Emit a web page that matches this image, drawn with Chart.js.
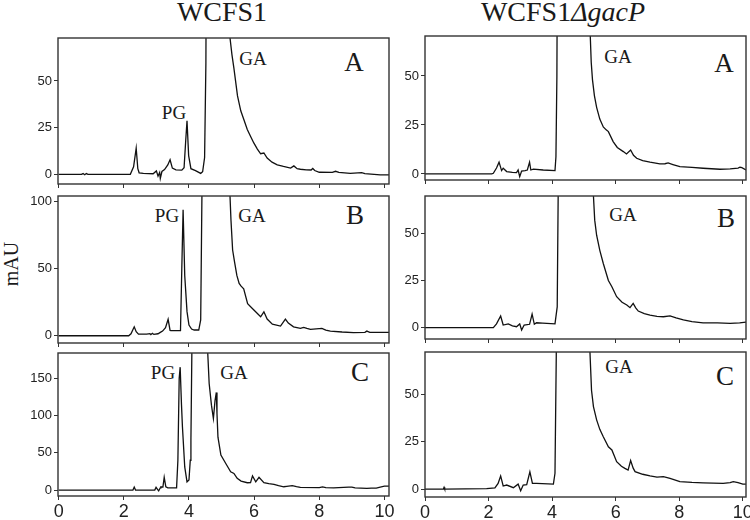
<!DOCTYPE html>
<html>
<head>
<meta charset="utf-8">
<script src="https://cdn.jsdelivr.net/npm/chart.js@4.4.1/dist/chart.umd.min.js"></script>
<style>
  html, body { margin: 0; padding: 0; background: #fff; }
  body { width: 750px; height: 520px; position: relative; overflow: hidden; font-family: "Liberation Serif", "Times New Roman", serif; color: #1a1a1a; }
  canvas { position: absolute; }
  .lbl { position: absolute; transform: translate(-50%, -50%); white-space: nowrap; line-height: 1; }
  .title { font-size: 28px; }
  .peak { font-size: 19px; }
  .panel { font-size: 27px; }
</style>
</head>
<body>
<div class="lbl title" style="left:222px;top:12px">WCFS1</div>
<div class="lbl title" style="left:563px;top:12px">WCFS1<i>ΔgacP</i></div>
<div class="lbl" style="left:11px;top:264px;font-size:20px;transform:translate(-50%,-50%) rotate(-90deg)">mAU</div>

<div class="lbl peak" style="left:174px;top:112px">PG</div>
<div class="lbl peak" style="left:253px;top:58px">GA</div>
<div class="lbl panel" style="left:354px;top:62px">A</div>
<div class="lbl peak" style="left:167px;top:215px">PG</div>
<div class="lbl peak" style="left:252px;top:215px">GA</div>
<div class="lbl panel" style="left:355px;top:215px">B</div>
<div class="lbl peak" style="left:163px;top:372px">PG</div>
<div class="lbl peak" style="left:234px;top:372px">GA</div>
<div class="lbl panel" style="left:360px;top:372px">C</div>

<div class="lbl peak" style="left:618px;top:56px">GA</div>
<div class="lbl panel" style="left:724px;top:63px">A</div>
<div class="lbl peak" style="left:623px;top:214px">GA</div>
<div class="lbl panel" style="left:726px;top:218px">B</div>
<div class="lbl peak" style="left:619px;top:366px">GA</div>
<div class="lbl panel" style="left:725px;top:376px">C</div>

<script>
// retention time axis (min)
const xTicks = [0, 2, 4, 6, 8, 10];

// WCFS1, sample A (GA peak apex is off scale)
const wtATime = [0, 0.7, 0.75, 0.8, 0.85, 0.9, 2.2, 2.3, 2.38, 2.43, 2.47, 2.6, 2.9, 3.0, 3.05, 3.1, 3.12, 3.17, 3.25, 3.35, 3.42, 3.49, 3.6, 3.78, 3.85, 3.9, 3.94, 3.99, 4.06, 4.2, 4.36, 4.42, 4.48, 4.52, 4.9, 5.22, 5.26, 5.32, 5.38, 5.49, 5.59, 5.7, 5.79, 5.9, 5.99, 6.1, 6.2, 6.3, 6.4, 6.55, 6.71, 6.9, 7.12, 7.22, 7.32, 7.42, 7.6, 7.75, 7.8, 7.86, 8.0, 8.4, 8.5, 8.6, 8.95, 9.3, 9.4, 9.87, 10.14];
const wtAmAU = [0, 0, 0.4, -0.2, 0.4, 0, 0, 4, 14, 3, 0.8, 0.5, 0.3, 1.8, -1, 1.0, -2.2, 1.5, 2.5, 5, 7.8, 3.3, 2.4, 2.2, 3.5, 18, 28.6, 10, 3.0, 2.0, 0.5, 1.4, 9, 60, 2000, 110, 73, 64, 56.7, 42, 34, 28.5, 24, 20, 16.8, 13.5, 11, 11.4, 8.7, 6.5, 5.1, 4.2, 3.3, 4.5, 3.0, 2.7, 2.4, 2.3, 3.1, 2.0, 1.1, 1.0, 1.6, 1.0, 0.5, 0.9, 0.4, -0.3, -0.3];

// WCFS1, sample B
const wtBTime = [0, 2.15, 2.22, 2.32, 2.38, 2.45, 2.7, 2.8, 2.83, 2.88, 2.92, 3.05, 3.12, 3.19, 3.28, 3.36, 3.42, 3.45, 3.74, 3.78, 3.82, 3.87, 3.94, 4.0, 4.08, 4.16, 4.3, 4.36, 4.4, 4.8, 5.25, 5.29, 5.34, 5.4, 5.47, 5.54, 5.6, 5.68, 5.8, 6.0, 6.2, 6.3, 6.4, 6.56, 6.81, 6.96, 7.05, 7.21, 7.42, 7.52, 7.62, 7.73, 8.08, 8.2, 8.34, 8.7, 9.05, 9.4, 9.46, 9.55, 9.87, 10.14];
const wtBmAU = [0, 0, 1.5, 6.7, 3, 1.2, 1.2, 1.6, 0.9, 1.8, 1.0, 1.5, 2.5, 3.5, 6, 12.3, 4, 3.8, 3.8, 50, 94, 45, 18, 8, 5, 4.3, 4.3, 11.8, 110, 2500, 110, 86, 64, 55, 45, 39, 37, 35, 24, 19, 14.2, 17.9, 12.5, 8.7, 7.2, 12.5, 9.5, 6.7, 5.5, 6.3, 5.5, 4.7, 5.5, 4.2, 3.5, 2.8, 2.4, 2.6, 3.5, 2.6, 2.5, 2.5];

// WCFS1, sample C
const wtCTime = [0, 2.28, 2.32, 2.36, 2.95, 2.99, 3.04, 3.07, 3.12, 3.14, 3.2, 3.24, 3.29, 3.35, 3.62, 3.66, 3.7, 3.73, 3.77, 3.8, 3.87, 3.94, 4.0, 4.04, 4.06, 4.09, 4.35, 4.57, 4.62, 4.69, 4.75, 4.8, 4.84, 4.86, 4.89, 4.98, 5.13, 5.28, 5.38, 5.48, 5.6, 5.79, 5.89, 5.95, 6.05, 6.15, 6.3, 6.45, 6.61, 6.75, 6.91, 7.0, 7.17, 7.3, 7.42, 8.0, 8.1, 8.2, 8.44, 8.9, 9.0, 9.1, 9.46, 9.6, 9.75, 9.87, 10.0, 10.14];
const wtCmAU = [0, 0, 4, 0, 0, 3.6, 0.5, -1, 3, 4.4, 4, 17, 4.4, 3, 3, 40, 150, 165, 115, 84.7, 31, 11, 13.4, 40, 67, 190, 3000, 190, 143, 114, 96, 120, 131, 102.7, 71, 47, 35.7, 24.5, 22.3, 15.7, 12, 9.8, 10, 19, 11, 17, 9.8, 8.5, 7.6, 6, 4.4, 5, 5.8, 4.5, 3.6, 3.2, 4.2, 3.2, 3, 4, 3.8, 3, 2.2, 2.6, 2.6, 4, 5.2, 5.2];

// WCFS1 gacP mutant, sample A
const mutATime = [0, 2.1, 2.15, 2.25, 2.33, 2.41, 2.46, 2.57, 2.75, 2.88, 2.93, 2.98, 3.04, 3.15, 3.22, 3.29, 3.33, 3.41, 3.72, 4.09, 4.12, 4.15, 4.6, 5.17, 5.2, 5.23, 5.27, 5.33, 5.4, 5.5, 5.61, 5.7, 5.77, 5.92, 6.05, 6.24, 6.34, 6.47, 6.56, 6.66, 6.85, 7.08, 7.39, 7.55, 7.65, 7.8, 8.02, 8.4, 8.75, 9.28, 9.6, 9.85, 9.91, 9.97, 10.1];
const mutAmAU = [0, 0, 0.3, 3, 6, 1.7, 2.9, 1.2, 0.8, 0.7, 2, -1.4, 1.5, 1.7, 2, 6, 2, 2.4, 2, 1.7, 8.8, 50, 2000, 100, 70.4, 57, 48, 40, 34, 28, 24, 22.5, 21.6, 16.5, 13.5, 11.4, 10.2, 12.2, 9.5, 8, 6.8, 6, 5.1, 5.2, 5.6, 4.8, 3.7, 3.3, 2.9, 2.4, 2.6, 3.0, 3.4, 3.2, 2];

// WCFS1 gacP mutant, sample B
const mutBTime = [0, 2.15, 2.25, 2.38, 2.46, 2.62, 2.75, 2.88, 2.98, 3.04, 3.12, 3.29, 3.37, 3.44, 3.51, 3.7, 4.09, 4.16, 4.19, 4.7, 5.28, 5.3, 5.34, 5.4, 5.5, 5.61, 5.77, 5.88, 6.03, 6.2, 6.35, 6.45, 6.55, 6.63, 6.71, 6.9, 7.08, 7.3, 7.5, 7.71, 7.9, 8.13, 8.4, 8.75, 9.2, 9.6, 9.9, 10.1];
const mutBmAU = [0, 0, 2, 6.2, 1.4, 2, 1.0, 0.5, 2, -1.2, 1.4, 1.8, 7.2, 1.8, 2.6, 2.4, 2, 11, 70, 2000, 100, 69.8, 57, 49, 41, 34, 25, 21.7, 16.4, 13.5, 12, 10.6, 12.9, 10.5, 8.8, 7.5, 6.7, 6, 5.8, 6.3, 5.2, 4.1, 3.2, 2.6, 2.5, 2.3, 2.6, 3];

// WCFS1 gacP mutant, sample C
const mutCTime = [0, 0.58, 0.6, 0.62, 1.94, 2.2, 2.3, 2.38, 2.46, 2.57, 2.78, 2.93, 3.01, 3.09, 3.2, 3.3, 3.38, 3.51, 4.04, 4.09, 4.13, 4.6, 5.17, 5.19, 5.24, 5.3, 5.4, 5.5, 5.61, 5.77, 5.88, 6.03, 6.18, 6.29, 6.39, 6.47, 6.55, 6.61, 6.85, 7.08, 7.3, 7.5, 7.71, 8.02, 8.4, 8.75, 9.38, 9.6, 9.7, 9.85, 10.0, 10.1];
const mutCmAU = [0, 0, 0.9, 0, 0.2, 0.6, 3, 6.9, 1.6, 2.1, 0.7, 2.6, -0.9, 2.1, 2.3, 9.1, 3, 3, 2.6, 8.3, 70, 2000, 100, 72.3, 52, 43.5, 36.5, 31.5, 27.6, 22.3, 20.6, 14.4, 12, 10.9, 10, 15, 11, 9.2, 7.8, 6.9, 6.3, 6.5, 5.6, 3.9, 3.5, 3.3, 3, 3.4, 3.9, 3.4, 2.6, 2.6];

// y tick labels per panel
const yTicksWtA = [0, 25, 50];
const yTicksWtB = [0, 50, 100];
const yTicksWtC = [0, 50, 100, 150];
const yTicksMut = [0, 25, 50];

// panel placement: plot box in page pixels, axis ranges
const panels = [
  { time: wtATime, mau: wtAmAU, ticks: yTicksWtA, L: 58, T: 38, R: 389, B: 184, xMin: -0.02, xMax: 10.14, yMin: -5.2, yMax: 73, xLabels: false },
  { time: wtBTime, mau: wtBmAU, ticks: yTicksWtB, L: 58, T: 196, R: 389, B: 343, xMin: -0.02, xMax: 10.14, yMin: -5.4, yMax: 104.3, xLabels: false },
  { time: wtCTime, mau: wtCmAU, ticks: yTicksWtC, L: 58, T: 353, R: 389, B: 496, xMin: -0.02, xMax: 10.14, yMin: -8, yMax: 184, xLabels: true },
  { time: mutATime, mau: mutAmAU, ticks: yTicksMut, L: 425, T: 36, R: 746, B: 180, xMin: 0, xMax: 10.1, yMin: -3.1, yMax: 70.4, xLabels: false },
  { time: mutBTime, mau: mutBmAU, ticks: yTicksMut, L: 425, T: 196, R: 746, B: 339, xMin: 0, xMax: 10.1, yMin: -6, yMax: 69.8, xLabels: false },
  { time: mutCTime, mau: mutCmAU, ticks: yTicksMut, L: 425, T: 352, R: 746, B: 497, xMin: 0, xMax: 10.1, yMin: -4.2, yMax: 72.3, xLabels: true }
];

// frame around each plot area
const boxPlugin = {
  id: 'box',
  afterDraw(chart) {
    const a = chart.chartArea;
    const c = chart.ctx;
    c.save();
    c.strokeStyle = '#333';
    c.lineWidth = 1.4;
    c.strokeRect(a.left, a.top, a.right - a.left, a.bottom - a.top);
    c.restore();
  }
};

function makePanel(p) {
  const yw = p.L < 100 ? 58 : 40;
  const padTop = 4, padRight = 12;
  const xh = p.xLabels ? 28 : 6;
  const cv = document.createElement('canvas');
  cv.width = yw + (p.R - p.L) + padRight;
  cv.height = padTop + (p.B - p.T) + xh;
  cv.style.left = (p.L - yw) + 'px';
  cv.style.top = (p.T - padTop) + 'px';
  document.body.appendChild(cv);

  new Chart(cv, {
    type: 'line',
    data: {
      datasets: [{
        data: p.time.map((t, i) => ({ x: t, y: p.mau[i] })),
        borderColor: '#111',
        borderWidth: 1.3,
        pointRadius: 0,
        tension: 0,
        fill: false,
        clip: 0
      }]
    },
    options: {
      responsive: false,
      animation: false,
      layout: { padding: { top: padTop, right: padRight, left: 0, bottom: 0 } },
      plugins: { legend: { display: false }, tooltip: { enabled: false } },
      scales: {
        x: {
          type: 'linear',
          min: p.xMin,
          max: p.xMax,
          afterBuildTicks: s => { s.ticks = xTicks.map(v => ({ value: v })); },
          afterFit: s => { s.height = xh; s.paddingLeft = 0; s.paddingRight = 0; },
          ticks: {
            display: p.xLabels,
            autoSkip: false,
            maxRotation: 0,
            padding: 1,
            color: '#222',
            font: { family: 'Liberation Sans', size: 18 }
          },
          grid: { drawOnChartArea: false, drawTicks: true, tickLength: 4, color: '#333', lineWidth: 1 },
          border: { display: false }
        },
        y: {
          type: 'linear',
          min: p.yMin,
          max: p.yMax,
          afterBuildTicks: s => { s.ticks = p.ticks.map(v => ({ value: v })); },
          afterFit: s => { s.width = yw; s.paddingTop = 0; s.paddingBottom = 0; },
          ticks: {
            autoSkip: false,
            padding: 2,
            color: '#222',
            font: { family: 'Liberation Sans', size: 13 }
          },
          grid: { drawOnChartArea: false, drawTicks: true, tickLength: 4, color: '#333', lineWidth: 1 },
          border: { display: false }
        }
      }
    },
    plugins: [boxPlugin]
  });
}

panels.forEach(makePanel);
</script>
</body>
</html>
